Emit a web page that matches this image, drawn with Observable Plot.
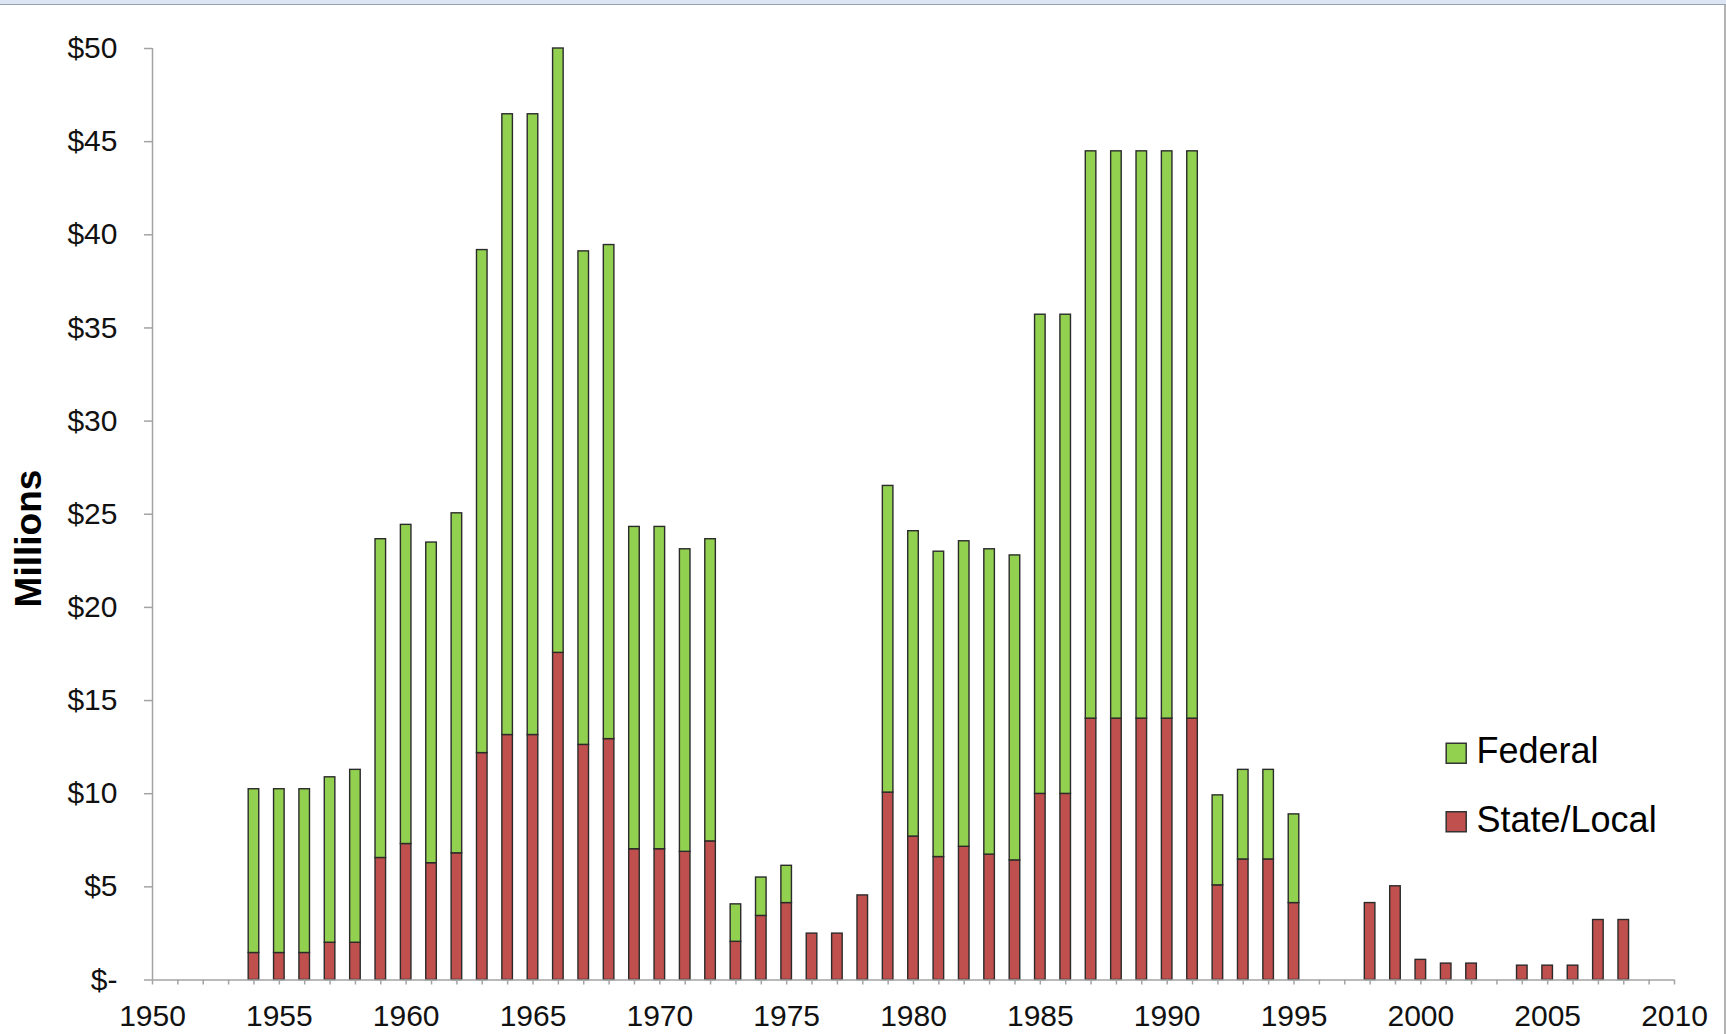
<!DOCTYPE html>
<html>
<head>
<meta charset="utf-8">
<script src="https://cdn.jsdelivr.net/npm/d3@7"></script>
<script src="https://cdn.jsdelivr.net/npm/@observablehq/plot@0.6"></script>
<style>
  html, body { margin: 0; padding: 0; background: #fff; overflow: hidden; }
  #wrap { position: relative; width: 1726px; height: 1034px; }
  #topband { position: absolute; left: 0; top: 0; width: 1726px; height: 4px; background: #dce6f2; border-bottom: 1px solid #9aa3ad; }
  #rightline { position: absolute; right: 0; top: 5px; width: 2px; height: 1029px; background: #b4b4b4; }
</style>
</head>
<body>
<div id="wrap"><div id="chart"></div><div id="topband"></div><div id="rightline"></div></div>
<script>
// Years with funding
const years = [1954, 1955, 1956, 1957, 1958, 1959, 1960, 1961, 1962, 1963, 1964, 1965, 1966, 1967, 1968,
  1969, 1970, 1971, 1972, 1973, 1974, 1975, 1976, 1977, 1978, 1979, 1980, 1981, 1982, 1983, 1984, 1985,
  1986, 1987, 1988, 1989, 1990, 1991, 1992, 1993, 1994, 1995, 1998, 1999, 2000, 2001, 2002, 2004, 2005,
  2006, 2007, 2008];

// State/Local funding ($ millions)
const stateLocal = [1.45, 1.45, 1.45, 2.0, 2.0, 6.55, 7.3, 6.27, 6.8, 12.18, 13.15, 13.15, 17.56, 12.62, 12.93,
  7.02, 7.02, 6.88, 7.44, 2.05, 3.44, 4.13, 2.49, 2.49, 4.54, 10.06, 7.7, 6.6, 7.15, 6.73, 6.42, 9.99,
  9.99, 14.03, 14.03, 14.03, 14.03, 14.03, 5.08, 6.47, 6.47, 4.13, 4.13, 5.03, 1.08, 0.88, 0.88, 0.77, 0.77,
  0.77, 3.22, 3.22];

// Federal funding ($ millions)
const federal = [8.79, 8.79, 8.79, 8.88, 9.28, 17.11, 17.13, 17.21, 18.25, 27.0, 33.32, 33.32, 32.44, 26.49, 26.52,
  17.3, 17.3, 16.24, 16.22, 2.01, 2.06, 2.0, 0, 0, 0, 16.46, 16.39, 16.39, 16.4, 16.39, 16.37, 25.72,
  25.72, 30.45, 30.45, 30.45, 30.45, 30.45, 4.83, 4.81, 4.81, 4.76, 0, 0, 0, 0, 0, 0, 0,
  0, 0, 0];

const seriesNames = ["Federal", "State/Local"];
const seriesColors = ["#92D050", "#C0504D"];

const yTicks = [0, 5, 10, 15, 20, 25, 30, 35, 40, 45, 50];
const xTickLabels = [1950, 1955, 1960, 1965, 1970, 1975, 1980, 1985, 1990, 1995, 2000, 2005, 2010];
const xMinorTicks = d3.range(1950, 2011);
const yTitle = "Millions";

// Stacked table built from the arrays
const rows = [];
years.forEach((yr, i) => {
  rows.push({year: yr, series: "State/Local", y1: 0, y2: stateLocal[i]});
  if (federal[i] > 0) rows.push({year: yr, series: "Federal", y1: stateLocal[i], y2: stateLocal[i] + federal[i]});
});

const W = 1726, H = 1034;
const mL = 152, mR = 52, mT = 48, mB = 54.5;
const axisGray = "#a3a3a3";
const font = "'Liberation Sans', Arial, Helvetica, sans-serif";

const legendMarks = seriesNames.flatMap((name, i) => [
  Plot.dot([name], {frameAnchor: "top-left", dx: 1303.7, dy: 704.7 + i * 68.5, symbol: "square", r: 11.3,
    fill: seriesColors[i], stroke: "#333", strokeWidth: 1.5}),
  Plot.text([name], {frameAnchor: "top-left", dx: 1324, dy: 703 + i * 68.5, textAnchor: "start",
    lineAnchor: "middle", fontSize: 36, fill: "#000"})
]);

const chart = Plot.plot({
  width: W, height: H,
  marginLeft: mL, marginRight: mR, marginTop: mT, marginBottom: mB,
  style: {fontFamily: font, background: "white", overflow: "visible"},
  x: {domain: [1950, 2010], axis: null, label: null},
  y: {domain: [0, 50], axis: null, label: null},
  color: {domain: seriesNames, range: seriesColors},
  marks: [
    Plot.rectY(rows, {
      x1: d => d.year - 0.5, x2: d => d.year + 0.5, y1: "y1", y2: "y2",
      fill: "series", stroke: "#2b2b2b", strokeWidth: 1.4, insetLeft: 7.4, insetRight: 7.4
    }),
    Plot.ruleY([0], {stroke: axisGray, strokeWidth: 1.5}),
    Plot.ruleX([1950], {stroke: axisGray, strokeWidth: 1.5}),
    Plot.axisX({ticks: xMinorTicks, tickSize: 5, tickFormat: () => "", stroke: axisGray, strokeWidth: 1.5, label: null}),
    Plot.axisX({ticks: xTickLabels, tickSize: 0, tickPadding: 25, tickFormat: d => String(d),
      fontSize: 30, fill: "#111", label: null}),
    Plot.axisY({ticks: yTicks, tickSize: 8, tickPadding: 27, tickFormat: d => d === 0 ? "$-" : "$" + d,
      fontSize: 30, stroke: axisGray, strokeWidth: 1.5, fill: "#111", label: null}),
    Plot.text([yTitle], {frameAnchor: "left", rotate: -90, dx: -123.7, dy: 24.3, fontSize: 37,
      fontWeight: "bold", fill: "#000", textAnchor: "middle", lineAnchor: "middle"}),
    ...legendMarks
  ]
});
document.getElementById("chart").appendChild(chart);
</script>
</body>
</html>
